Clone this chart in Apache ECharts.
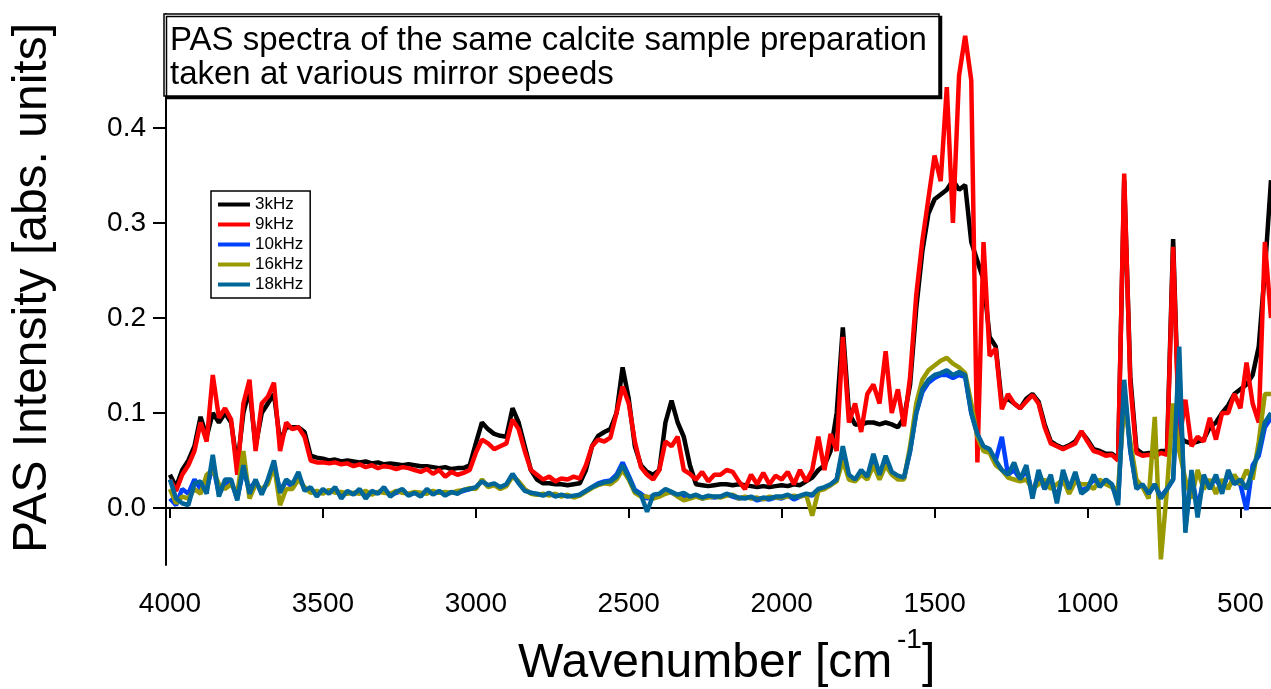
<!DOCTYPE html>
<html>
<head>
<meta charset="utf-8">
<script src="https://cdn.jsdelivr.net/npm/echarts@6/dist/echarts.min.js"></script>
<style>
html,body{margin:0;padding:0;background:#fff;}
#chart{width:1271px;height:689px;}
</style>
</head>
<body>
<div id="chart"></div>
<script>
// Wavenumber grid (cm^-1)
const wavenumbers = [4000,3980,3960,3940,3920,3900,3880,3860,3840,3820,
3800,3780,3760,3740,3720,3700,3680,3660,3640,3620,
3600,3580,3560,3540,3520,3500,3480,3460,3440,3420,
3400,3380,3360,3340,3320,3300,3280,3260,3240,3220,
3200,3180,3160,3140,3120,3100,3080,3060,3040,3020,
3000,2980,2960,2940,2920,2900,2880,2860,2840,2820,
2800,2780,2760,2740,2720,2700,2680,2660,2640,2620,
2600,2580,2560,2540,2520,2500,2480,2460,2440,2420,
2400,2380,2360,2340,2320,2300,2280,2260,2240,2220,
2200,2180,2160,2140,2120,2100,2080,2060,2040,2020,
2000,1980,1960,1940,1920,1900,1880,1860,1840,1820,
1800,1780,1760,1740,1720,1700,1680,1660,1640,1620,
1600,1580,1560,1540,1520,1500,1480,1460,1440,1420,
1400,1380,1360,1340,1320,1300,1280,1260,1240,1220,
1200,1180,1160,1140,1120,1100,1080,1060,1040,1020,
1000,980,960,940,920,900,880,860,840,820,
800,780,760,740,720,700,680,660,640,620,
600,580,560,540,520,500,480,460,440,420,
400];

const s3kHz = [0.035,0.022,0.04,0.05,0.065,0.096,0.075,0.1,0.09,0.1,
0.09,0.045,0.1,0.125,0.065,0.1,0.11,0.12,0.07,0.085,
0.085,0.085,0.08,0.055,0.053,0.052,0.05,0.051,0.049,0.05,
0.049,0.048,0.049,0.047,0.048,0.046,0.047,0.046,0.045,0.046,
0.045,0.044,0.044,0.043,0.042,0.043,0.041,0.042,0.042,0.045,
0.068,0.09,0.083,0.078,0.076,0.075,0.105,0.09,0.065,0.04,
0.03,0.026,0.026,0.025,0.025,0.024,0.025,0.026,0.04,0.065,
0.076,0.08,0.083,0.1,0.148,0.115,0.065,0.045,0.038,0.035,
0.04,0.09,0.113,0.09,0.075,0.045,0.025,0.024,0.023,0.024,
0.025,0.025,0.024,0.025,0.024,0.023,0.022,0.023,0.022,0.023,
0.024,0.023,0.025,0.024,0.028,0.032,0.04,0.045,0.06,0.1,
0.19,0.1,0.088,0.088,0.09,0.09,0.088,0.09,0.088,0.085,
0.095,0.13,0.21,0.27,0.31,0.325,0.33,0.335,0.345,0.335,
0.34,0.28,0.26,0.24,0.18,0.17,0.11,0.115,0.11,0.105,
0.115,0.12,0.112,0.088,0.07,0.066,0.063,0.066,0.07,0.08,
0.072,0.062,0.06,0.057,0.057,0.052,0.345,0.138,0.062,0.057,
0.058,0.057,0.06,0.06,0.283,0.075,0.07,0.068,0.07,0.072,
0.085,0.09,0.1,0.108,0.12,0.125,0.13,0.14,0.17,0.25,
0.345];

const s9kHz = [0.03,0.018,0.035,0.045,0.06,0.09,0.07,0.14,0.095,0.105,
0.093,0.035,0.11,0.135,0.06,0.11,0.117,0.132,0.06,0.09,
0.083,0.085,0.075,0.05,0.048,0.048,0.047,0.048,0.046,0.047,
0.044,0.046,0.043,0.045,0.042,0.044,0.043,0.041,0.043,0.042,
0.04,0.038,0.041,0.036,0.04,0.033,0.038,0.035,0.037,0.04,
0.058,0.072,0.068,0.062,0.065,0.068,0.093,0.083,0.06,0.04,
0.035,0.03,0.033,0.028,0.031,0.03,0.033,0.031,0.045,0.065,
0.072,0.07,0.074,0.1,0.128,0.11,0.07,0.043,0.035,0.03,
0.04,0.07,0.065,0.075,0.04,0.036,0.03,0.038,0.028,0.035,
0.035,0.04,0.038,0.028,0.02,0.035,0.025,0.037,0.025,0.034,
0.03,0.038,0.025,0.04,0.028,0.04,0.075,0.04,0.078,0.06,
0.18,0.09,0.11,0.08,0.12,0.13,0.11,0.165,0.1,0.125,
0.086,0.138,0.224,0.281,0.326,0.371,0.344,0.443,0.3,0.455,
0.497,0.45,0.048,0.28,0.16,0.168,0.104,0.12,0.11,0.105,
0.112,0.119,0.11,0.085,0.068,0.065,0.062,0.065,0.068,0.081,
0.07,0.06,0.058,0.055,0.056,0.05,0.352,0.13,0.058,0.055,
0.056,0.054,0.058,0.056,0.275,0.07,0.114,0.065,0.075,0.07,
0.095,0.072,0.1,0.1,0.12,0.105,0.153,0.11,0.09,0.28,
0.2];

const s10kHz = [0.01,0.003,0.02,0.015,0.03,0.02,0.02,0.045,0.015,0.025,
0.028,0.01,0.04,0.02,0.028,0.016,0.028,0.045,0.018,0.028,
0.022,0.034,0.02,0.02,0.015,0.018,0.017,0.02,0.014,0.017,
0.015,0.018,0.013,0.016,0.016,0.02,0.014,0.016,0.018,0.014,
0.016,0.014,0.018,0.015,0.017,0.015,0.016,0.016,0.018,0.02,
0.021,0.029,0.023,0.025,0.021,0.024,0.035,0.027,0.019,0.016,
0.014,0.014,0.015,0.013,0.013,0.013,0.012,0.014,0.018,0.022,
0.026,0.028,0.029,0.035,0.048,0.034,0.019,0.015,0.01,0.013,
0.014,0.018,0.016,0.013,0.013,0.011,0.013,0.01,0.012,0.011,
0.012,0.014,0.012,0.01,0.011,0.011,0.008,0.01,0.009,0.011,
0.01,0.013,0.009,0.012,0.014,0.013,0.019,0.021,0.024,0.03,
0.06,0.033,0.029,0.038,0.032,0.052,0.033,0.05,0.036,0.033,
0.031,0.06,0.1,0.122,0.132,0.137,0.14,0.14,0.137,0.14,
0.138,0.1,0.077,0.064,0.06,0.05,0.075,0.035,0.04,0.03,
0.04,0.015,0.035,0.02,0.03,0.01,0.035,0.02,0.035,0.018,
0.022,0.03,0.025,0.028,0.024,0.008,0.125,0.06,0.022,0.024,
0.015,0.025,0.012,0.02,0.03,0.15,-0.02,0.035,0.0,0.03,
0.025,0.03,0.02,0.035,0.028,0.025,-0.002,0.045,0.055,0.085,
0.095];

const s16kHz = [0.02,0.005,0.012,0.01,0.02,0.015,0.035,0.04,0.025,0.02,
0.025,0.015,0.06,0.01,0.025,0.02,0.025,0.045,0.003,0.02,
0.02,0.03,0.022,0.016,0.018,0.015,0.019,0.016,0.017,0.015,
0.016,0.015,0.018,0.014,0.017,0.016,0.015,0.018,0.016,0.015,
0.017,0.016,0.015,0.018,0.016,0.017,0.016,0.018,0.019,0.021,
0.02,0.03,0.022,0.024,0.02,0.023,0.033,0.028,0.02,0.015,
0.014,0.015,0.013,0.015,0.012,0.014,0.011,0.013,0.017,0.021,
0.024,0.026,0.025,0.03,0.04,0.03,0.016,0.012,0.012,0.01,
0.012,0.015,0.017,0.012,0.008,0.01,0.012,0.01,0.011,0.012,
0.011,0.013,0.014,0.01,0.012,0.01,0.011,0.009,0.012,0.011,
0.011,0.012,0.013,0.012,0.014,-0.008,0.018,0.02,0.024,0.028,
0.05,0.03,0.028,0.035,0.03,0.045,0.03,0.045,0.035,0.03,
0.03,0.065,0.11,0.135,0.145,0.15,0.155,0.158,0.152,0.148,
0.142,0.11,0.075,0.06,0.058,0.045,0.04,0.032,0.03,0.028,
0.03,0.02,0.025,0.03,0.02,0.025,0.03,0.015,0.028,0.025,
0.025,0.02,0.03,0.025,0.022,0.02,0.11,0.07,0.03,0.022,
0.01,0.096,-0.054,0.02,0.11,0.06,0.03,0.01,0.04,0.02,
0.03,0.015,0.03,0.02,0.035,0.025,0.04,0.03,0.07,0.12,
0.12];

const s18kHz = [0.03,0.01,0.005,0.003,0.026,0.028,0.015,0.056,0.012,0.03,
0.03,0.008,0.045,0.015,0.03,0.014,0.03,0.05,0.016,0.03,
0.025,0.038,0.018,0.022,0.012,0.02,0.015,0.022,0.01,0.018,
0.014,0.02,0.01,0.018,0.015,0.022,0.012,0.017,0.02,0.013,
0.016,0.012,0.02,0.014,0.018,0.013,0.017,0.015,0.019,0.02,
0.022,0.028,0.024,0.026,0.022,0.025,0.036,0.026,0.018,0.016,
0.015,0.013,0.016,0.012,0.014,0.012,0.013,0.014,0.018,0.022,
0.025,0.027,0.028,0.033,0.045,0.032,0.018,0.014,-0.004,0.014,
0.015,0.02,0.017,0.014,0.016,0.012,0.014,0.011,0.013,0.012,
0.012,0.015,0.013,0.011,0.01,0.012,0.009,0.011,0.01,0.012,
0.012,0.014,0.011,0.013,0.015,0.014,0.02,0.022,0.025,0.03,
0.065,0.035,0.03,0.04,0.033,0.057,0.035,0.055,0.038,0.034,
0.032,0.06,0.1,0.125,0.135,0.14,0.142,0.145,0.14,0.143,
0.14,0.1,0.078,0.065,0.062,0.05,0.04,0.035,0.048,0.03,
0.045,0.01,0.04,0.02,0.035,0.005,0.04,0.02,0.038,0.015,
0.02,0.035,0.022,0.03,0.025,0.003,0.135,0.061,0.02,0.025,
0.015,0.025,0.01,0.02,0.03,0.17,-0.026,0.04,-0.01,0.035,
0.02,0.035,0.015,0.04,0.025,0.03,0.02,0.04,0.06,0.09,
0.1];

const seriesNames = ['3kHz','9kHz','10kHz','16kHz','18kHz'];
const seriesColors = ['#000000','#ff0000','#0040ff','#999900','#006699'];
const seriesValues = [s3kHz, s9kHz, s10kHz, s16kHz, s18kHz];
const xTicks = [4000,3500,3000,2500,2000,1500,1000,500];
const yTicks = [0,0.1,0.2,0.3,0.4];
const titleLines = ['PAS spectra of the same calcite sample preparation','taken at various mirror speeds'];

const chart = echarts.init(document.getElementById('chart'), null, {renderer:'canvas'});
const FONT = 'Liberation Sans, Arial, Helvetica, sans-serif';

const option = {
  animation: false,
  backgroundColor: '#ffffff',
  grid: {left:166, right:0, top:14, bottom:124, containLabel:false},
  xAxis: {
    type:'value', inverse:true, min:400, max:4013,
    axisLine:{show:true, lineStyle:{color:'#000', width:2}},
    axisTick:{show:true, inside:false, length:10, lineStyle:{color:'#000', width:2}, customValues:xTicks},
    axisLabel:{show:true, customValues:xTicks, color:'#000', fontSize:28, fontFamily:FONT, margin:25,
      formatter:function(v){return String(v);}},
    splitLine:{show:false}
  },
  yAxis: {
    type:'value', min:-0.06, max:0.52,
    axisLine:{show:true, lineStyle:{color:'#000', width:2}},
    axisTick:{show:true, inside:false, length:13, lineStyle:{color:'#000', width:2}, customValues:yTicks},
    axisLabel:{show:true, customValues:yTicks, color:'#000', fontSize:28, fontFamily:FONT, margin:20,
      formatter:function(v){return v.toFixed(1);}},
    splitLine:{show:false}
  },
  legend: {
    show:true, orient:'vertical', left:211, top:191,
    padding:[5,7,5,7], itemGap:3, itemWidth:32, itemHeight:4, icon:'rect',
    borderColor:'#000', borderWidth:1.5, backgroundColor:'#fff',
    textStyle:{color:'#000', fontSize:17, fontFamily:FONT},
    data: seriesNames
  },
  series: seriesNames.map(function(name, k){
    return {
      name:name, type:'line', showSymbol:false, symbol:'none',
      data: wavenumbers.map(function(w,i){return [w, seriesValues[k][i]];}),
      lineStyle:{color:seriesColors[k], width:4.5},
      itemStyle:{color:seriesColors[k]},
      z: 2+k
    };
  }),
  graphic: [
    {type:'rect', z:100, shape:{x:164, y:14, width:775, height:82},
     style:{fill:'#fff', stroke:'#000', lineWidth:1.5, shadowColor:'#000', shadowOffsetX:2.5, shadowOffsetY:2.5, shadowBlur:0}},
    {type:'text', z:101, x:170, y:41, style:{text:titleLines[0], fill:'#000', font:'33px '+FONT, textAlign:'left', textVerticalAlign:'middle'}},
    {type:'text', z:101, x:170, y:75, style:{text:titleLines[1], fill:'#000', font:'33px '+FONT, textAlign:'left', textVerticalAlign:'middle'}},
    {type:'text', z:101, x:33, y:288, rotation:Math.PI/2,
     style:{text:'PAS Intensity [abs. units]', fill:'#000', font:'48px '+FONT, textAlign:'center', textVerticalAlign:'middle'}},
    {type:'text', z:101, x:518, y:664, style:{text:'Wavenumber [cm', fill:'#000', font:'48px '+FONT, textAlign:'left', textVerticalAlign:'middle'}},
    {type:'text', z:101, x:897, y:640, style:{text:'-1', fill:'#000', font:'28px '+FONT, textAlign:'left', textVerticalAlign:'middle'}},
    {type:'text', z:101, x:922, y:664, style:{text:']', fill:'#000', font:'48px '+FONT, textAlign:'left', textVerticalAlign:'middle'}}
  ]
};
chart.setOption(option);
</script>
</body>
</html>
